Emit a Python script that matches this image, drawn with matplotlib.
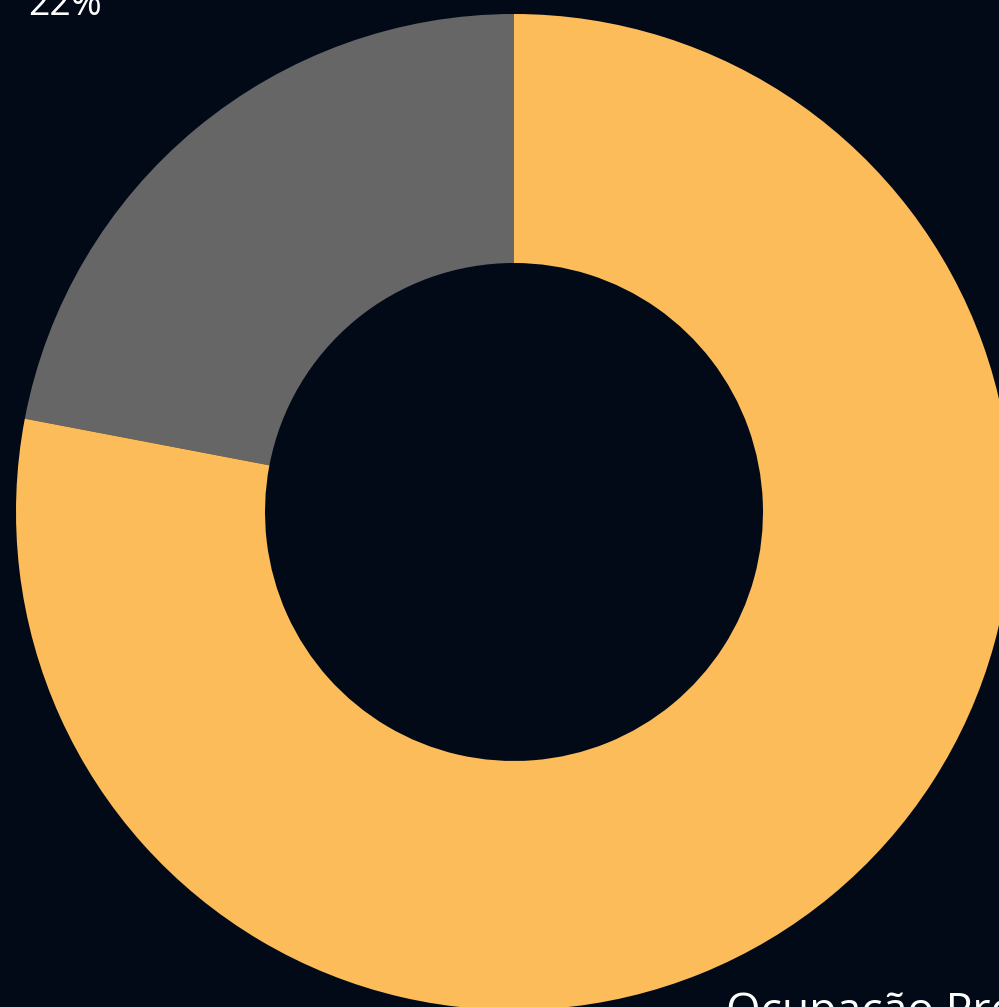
import matplotlib
matplotlib.use("Agg")
import matplotlib.pyplot as plt

categories = ["Disponível", "Ocupação Projetada"]
values = [22, 78]
colors = ["#666666", "#FDBC5A"]
bg = "#020A18"

fig = plt.figure(figsize=(9.99, 10.07), dpi=100)
fig.patch.set_facecolor(bg)
W, H = 999, 1007
cx, cy, R = 514, 512, 498
ax = fig.add_axes([(cx - R) / W, (H - cy - R) / H, 2 * R / W, 2 * R / H])
ax.set_facecolor(bg)
ax.pie(values, colors=colors, startangle=90, counterclock=True, radius=1,
       wedgeprops=dict(width=0.5, edgecolor="none", linewidth=0))
ax.set_xlim(-1, 1)
ax.set_ylim(-1, 1)
ax.set_aspect("equal")
ax.axis("off")

font = ["Open Sans", "DejaVu Sans"]
fig.text(28 / W, 1 - 15 / H, f"{values[0]}%", color="white", fontsize=27,
         family=font, fontweight="normal", ha="left", va="baseline")
fig.text(726 / W, 1 - 1024 / H, categories[1], color="white", fontsize=32,
         family=font, fontweight="normal", ha="left", va="baseline")

fig.savefig("out.png", dpi=100, facecolor=bg)
